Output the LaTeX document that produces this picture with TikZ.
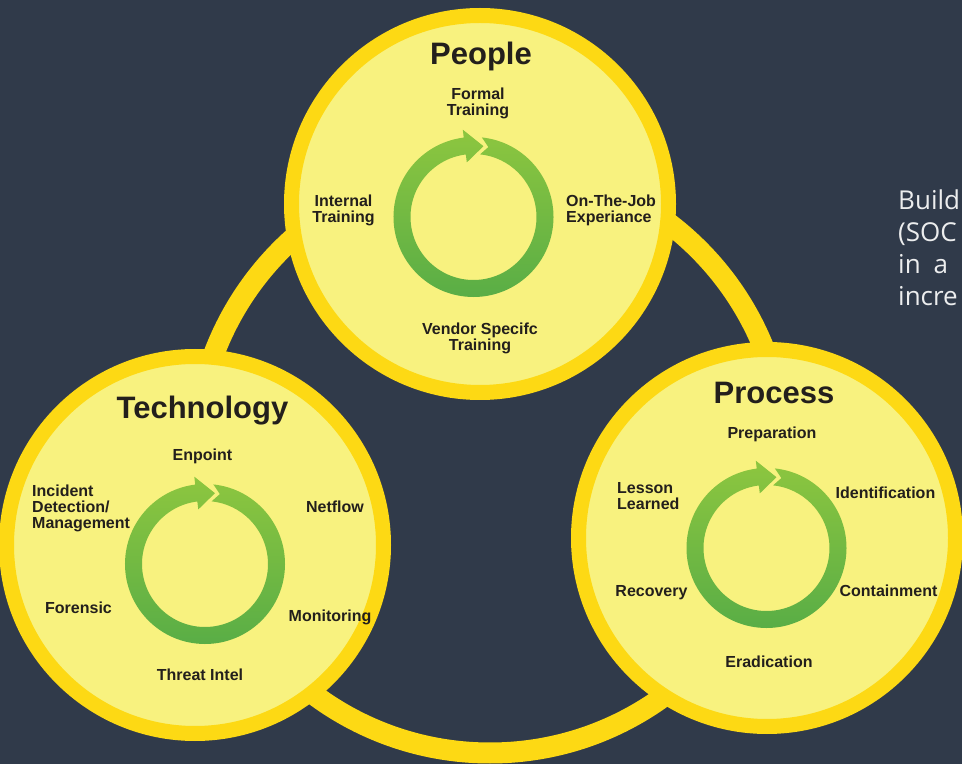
\documentclass[tikz,border=0pt]{standalone}
\usepackage{fontspec}
\setmainfont{Liberation Sans}
\newfontfamily\sidefont{Open Sans}
\definecolor{bg}{HTML}{303A4A}
\definecolor{gold}{HTML}{FDD914}
\definecolor{pale}{HTML}{F8F27F}
\definecolor{ink}{HTML}{231F1C}
\definecolor{greenTop}{HTML}{8DC63F}
\definecolor{greenBot}{HTML}{58AD46}
\definecolor{sidetext}{HTML}{ECEDEE}
\newcommand{\cyclearrow}[1]{%
  \shade[top color=greenTop, bottom color=greenBot, shift={(#1)}]
    (84:80) arc[start angle=84, end angle=-263, radius=80]
    -- (97:88) -- (82:71.5) -- (97:55) -- (97:63)
    arc[start angle=97, end angle=444, radius=63]
    -- (78:71.5) -- cycle;}
\begin{document}
\begin{tikzpicture}[x=1pt,y=1pt,
  lbl/.style={font=\bfseries\fontsize{16}{16}\selectfont, text=ink, align=center, inner sep=0pt},
  lbll/.style={lbl, align=left, anchor=west},
  ttl/.style={font=\bfseries\fontsize{31}{34}\selectfont, text=ink, inner sep=0pt},
  disc/.style={circle, draw=gold, fill=pale, line width=15pt, minimum size=377pt, inner sep=0pt},
  side/.style={font=\sidefont\fontsize{26}{32}\selectfont, text=sidetext, anchor=base west, inner sep=0pt}]
\useasboundingbox (0,0) rectangle (962,764);
\fill[bg] (0,0) rectangle (962,764);
\coordinate (ringc) at (490,306);
\draw[gold, line width=21pt] (ringc) circle[radius=295];
\node[disc] (people) at (480,560) {};
\node[disc] (tech) at (195,219) {};
\node[disc] (proc) at (767,226) {};
\coordinate (cp) at (473.5,547);
\coordinate (ct) at (205,200);
\coordinate (cr) at (766.5,216);
\cyclearrow{cp}
\cyclearrow{ct}
\cyclearrow{cr}
% People
\node[ttl] (tp) at (481,708) {People};
\node[lbl] (p1) at (478,661) {Formal\\Training};
\node[lbl] (p2) at (343.5,553.5) {Internal\\Training};
\node[lbll] (p3) at (566,554) {On-The-Job\\Experiance};
\node[lbl] (p4) at (480,426) {Vendor Specifc\\Training};
% Technology
\node[ttl] (tt) at (202.5,353) {Technology};
\node[lbl] (t1) at (202.5,307.5) {Enpoint};
\node[lbll] (t2) at (32,256) {Incident\\Detection/\\Management};
\node[lbl] (t3) at (335,257) {Netflow};
\node[lbl] (t4) at (78.5,156.5) {Forensic};
\node[lbl] (t5) at (330,146.5) {Monitoring};
\node[lbl] (t6) at (200,89.5) {Threat Intel};
% Process
\node[ttl] (tr) at (774,371) {Process};
\node[lbl] (r1) at (772,329.5) {Preparation};
\node[lbl] (r2) at (885.5,271.5) {Identification};
\node[lbll] (r3) at (617,267.5) {Lesson\\Learned};
\node[lbl] (r4) at (651.5,171.5) {Recovery};
\node[lbl] (r5) at (888.5,173) {Containment};
\node[lbl] (r6) at (769,102.5) {Eradication};
% side text
\node[side] (s1) at (898,554) {Build};
\node[side] (s2) at (898,522) {(SOC};
\node[side] (s3) at (898,490) {in\hspace{13pt}a};
\node[side] (s4) at (898,458) {incre};
\end{tikzpicture}
\end{document}
